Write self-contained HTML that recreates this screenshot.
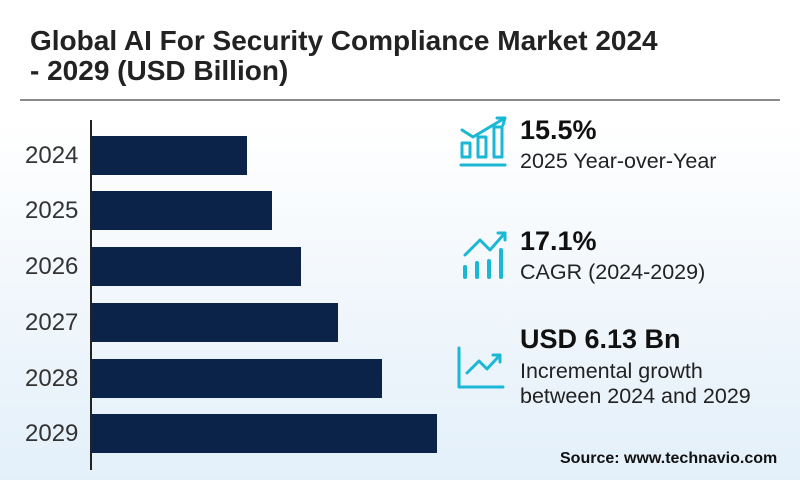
<!DOCTYPE html>
<html><head><style>
body{margin:0}
.c{position:relative;width:800px;height:480px;overflow:hidden;font-family:"Liberation Sans",sans-serif;background:linear-gradient(180deg,#ffffff 0%,#ffffff 25%,#eef5fb 70%,#e3f0fa 100%);}
.t{position:absolute;left:30px;top:26px;font-size:28px;font-weight:bold;color:#222;line-height:30px;}
.hr{position:absolute;left:20px;top:99px;width:760px;height:2px;background:#8a8a8a}
.ax{position:absolute;left:90px;top:120px;width:2px;height:350px;background:#222}
.b{position:absolute;left:92px;height:39px;background:#0c2349}
.y{position:absolute;left:25px;font-size:24px;color:#333}
.k{position:absolute;left:520px;font-size:27px;font-weight:bold;color:#111}
.s{position:absolute;left:520px;font-size:21.5px;color:#222;line-height:25px}
</style></head><body><div class="c">
<div class="t">Global AI For Security Compliance Market 2024<br>- 2029 (USD Billion)</div>
<div class="hr"></div>
<div class="ax"></div>
<div class="b" style="top:136px;width:155px"></div>
<div class="b" style="top:191px;width:180px"></div>
<div class="b" style="top:247px;width:209px"></div>
<div class="b" style="top:303px;width:246px"></div>
<div class="b" style="top:359px;width:290px"></div>
<div class="b" style="top:414px;width:345px"></div>
<div class="y" style="top:142px">2024</div>
<div class="y" style="top:197px">2025</div>
<div class="y" style="top:253px">2026</div>
<div class="y" style="top:309px">2027</div>
<div class="y" style="top:365px">2028</div>
<div class="y" style="top:420px">2029</div>
<svg style="position:absolute;left:455px;top:115px" width="70" height="300" fill="none" stroke="#1bb8d6" stroke-width="3" stroke-linecap="round" stroke-linejoin="round">
<path d="M7 15 L18 22 L50 3 M42 3 L50 3 L48 10"/>
<rect x="7" y="28" width="8" height="14"/><rect x="23" y="22" width="8" height="20"/><rect x="39" y="12" width="8" height="30"/>
<path d="M6 50 L50 50"/>
<path d="M10 140 L25 125 L35 135 L50 118 M43 118 L50 118 L50 125"/>
<path d="M10 152 L10 162 M22 148 L22 162 M34 146 L34 162 M46 135 L46 162" stroke-width="4"/>
<path d="M4 233 L4 272 L48 272"/>
<path d="M12 258 L24 246 L32 254 L45 240 M38 240 L45 240 L45 247"/>
</svg>
<div class="k" style="top:115px">15.5%</div>
<div class="s" style="top:149px">2025 Year-over-Year</div>
<div class="k" style="top:226px">17.1%</div>
<div class="s" style="top:260px">CAGR (2024-2029)</div>
<div class="k" style="top:324px">USD 6.13 Bn</div>
<div class="s" style="top:359px">Incremental growth<br>between 2024 and 2029</div>
<div style="position:absolute;left:560px;top:450px;font-size:16px;font-weight:bold;color:#111">Source: www.technavio.com</div>
</div></body></html>
